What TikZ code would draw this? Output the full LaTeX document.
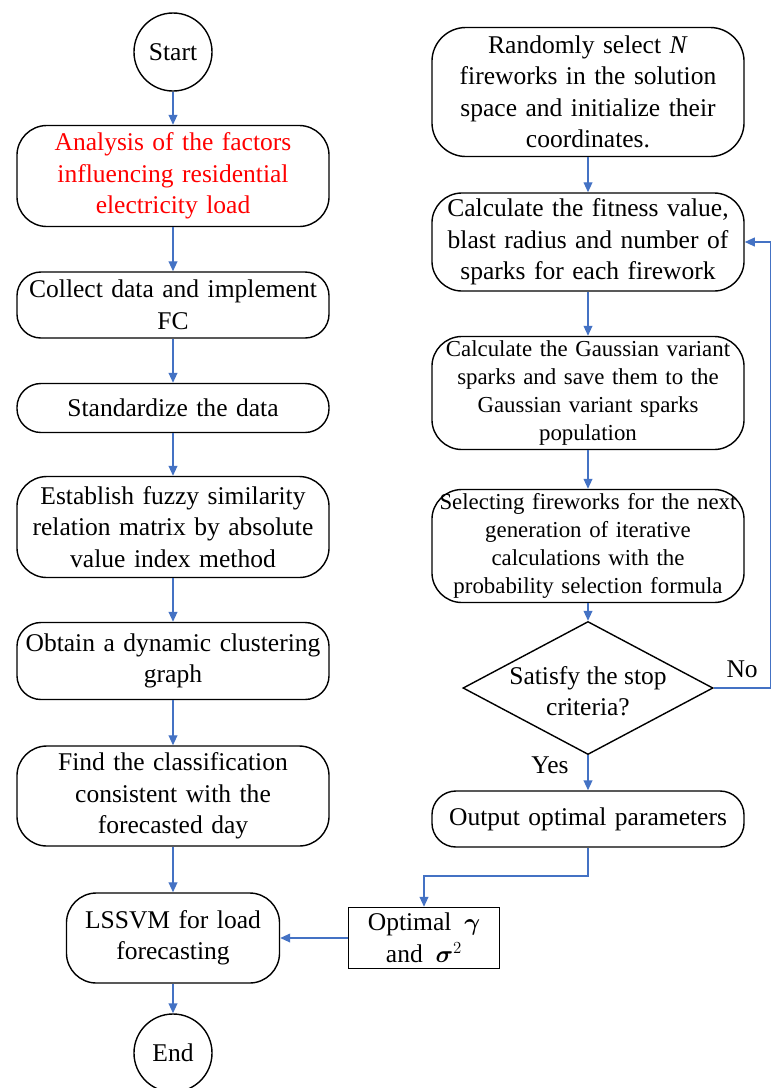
\documentclass[tikz,border=0pt]{standalone}
\usepackage{amsmath, amssymb, bm}
\usepackage{fontspec}
\setmainfont{Liberation Serif}
\usepackage{tikz}
\usetikzlibrary{arrows.meta, shapes.geometric, positioning}

\definecolor{flowblue}{RGB}{68,114,196}

\tikzset{
  stepbox/.style={draw, line width=1pt, rounded corners=0.6cm, align=center,
    text width=7.8cm, minimum width=7.8cm, inner sep=0pt},
  smallbox/.style={stepbox, font=\fontsize{16.25}{19.9}\selectfont},
  startend/.style={draw, circle, line width=1pt, minimum size=1.95cm, inner sep=0pt},
  decision/.style={draw, diamond, line width=1pt, aspect=1.88, inner sep=0pt,
    minimum width=6.25cm, minimum height=3.325cm},
  plainbox/.style={draw, line width=1pt, align=center, minimum width=3.775cm,
    minimum height=1.525cm, inner sep=0pt},
  flow/.style={draw=flowblue, line width=1pt, -{Triangle[length=0.25cm, width=0.22cm]}}
}

\begin{document}
\begin{tikzpicture}[x=0.025cm, y=-0.025cm, font=\fontsize{18.15}{22.4}\selectfont]
\useasboundingbox (0,0) rectangle (772,1088);

% left column
\node[startend] (start) at (173,52) {Start};
\node[stepbox, minimum height=2.525cm, text=red, rounded corners=0.75cm] (factor) at (173,176) {Analysis of the factors\\influencing residential\\electricity load};
\node[stepbox, minimum height=1.65cm] (collect) at (173,305) {Collect data and implement\\FC};
\node[stepbox, minimum height=1.225cm] (standard) at (173,408) {Standardize the data};
\node[stepbox, minimum height=2.525cm, rounded corners=0.75cm] (matrix) at (173,527) {Establish fuzzy similarity\\relation matrix by absolute\\value index method};
\node[stepbox, minimum height=1.925cm] (graph) at (173,661) {Obtain a dynamic clustering\\graph};
\node[stepbox, minimum height=2.5cm, rounded corners=0.75cm] (classify) at (173,796) {Find the classification\\consistent with the\\forecasted day};
\node[stepbox, text width=5.325cm, minimum width=5.325cm, minimum height=2.25cm, rounded corners=0.75cm] (lssvm) at (173,938) {LSSVM for load\\forecasting};
\node[startend] (end) at (173,1053) {End};

% right column
\node[stepbox, minimum height=3.225cm, rounded corners=0.85cm] (init) at (588,92) {Randomly select \textit{N}\\fireworks in the solution\\space and initialize their\\coordinates.};
\node[stepbox, minimum height=2.45cm, rounded corners=0.75cm] (fitness) at (588,242) {Calculate the fitness value,\\blast radius and number of\\sparks for each firework};
\node[smallbox, minimum height=2.825cm, rounded corners=0.75cm] (gauss) at (588,393) {Calculate the Gaussian variant\\sparks and save them to the\\Gaussian variant sparks\\population};
\node[smallbox, minimum height=2.825cm, rounded corners=0.75cm] (select) at (588,546) {Selecting fireworks for the next\\generation of iterative\\calculations with the\\probability selection formula};
\node[decision] (stop) at (588,688) {};
\node[align=center] (stoptext) at (588,691) {Satisfy the stop\\criteria?};
\node[stepbox, minimum height=1.4cm] (output) at (588,819) {Output optimal parameters};
\node[plainbox] (optimal) at (424,938) {Optimal\ \ $\boldsymbol{\gamma}$\\and\ \ $\boldsymbol{\sigma}^{2}$};

\coordinate (noend) at (770.5,688);
\coordinate (outbend) at (588,876);

% connectors
\draw[flow] (start) -- (factor);
\draw[flow] (factor) -- (collect);
\draw[flow] (collect) -- (standard);
\draw[flow] (standard) -- (matrix);
\draw[flow] (matrix) -- (graph);
\draw[flow] (graph) -- (classify);
\draw[flow] (classify) -- (lssvm);
\draw[flow] (lssvm) -- (end);

\draw[flow] (init) -- (fitness);
\draw[flow] (fitness) -- (gauss);
\draw[flow] (gauss) -- (select);
\draw[flow] (select) -- (stop.north);
\draw[flow] (stop.south) -- node[pos=0.28, left=0.35cm] {Yes} (output);
\draw[flow] (stop.east) -- node[above=0.12cm] {No} (noend) |- (fitness.east);
\draw[flow] (output.south) -- (outbend) -| (optimal.north);
\draw[flow] (optimal.west) -- (lssvm.east);
\end{tikzpicture}
\end{document}
